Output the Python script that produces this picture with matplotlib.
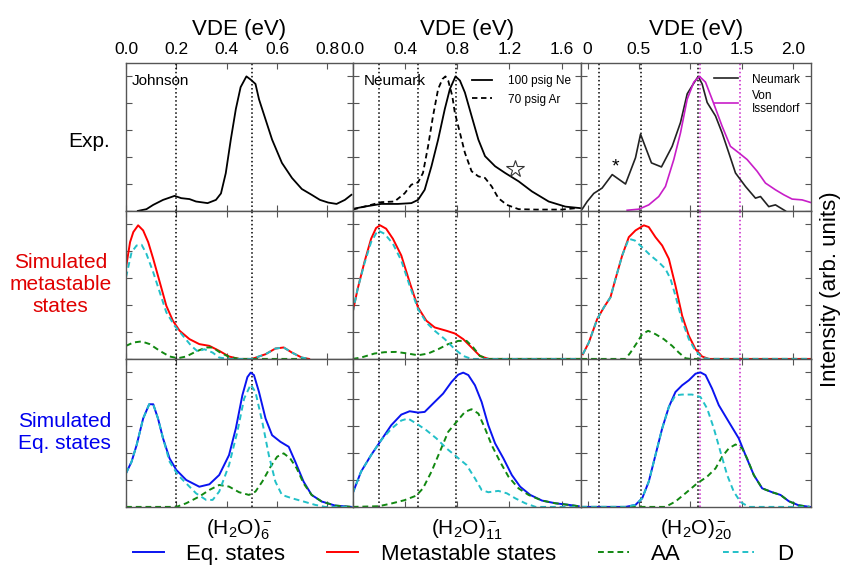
import numpy as np
import matplotlib.pyplot as plt
from matplotlib.lines import Line2D

plt.rcParams['font.family'] = ['Liberation Sans', 'DejaVu Sans']
plt.rcParams['mathtext.fontset'] = 'custom'
plt.rcParams['mathtext.rm'] = 'Liberation Sans'
plt.rcParams['mathtext.it'] = 'Liberation Sans:italic'

# ---------------- data ----------------
clusters = [r'(H$_2$O)$_6^-$', r'(H$_2$O)$_{11}^-$', r'(H$_2$O)$_{20}^-$']
x_limits = [(0, 0.9), (0, 1.75), (-0.06, 2.17)]
x_ticks = [[0.0, 0.2, 0.4, 0.6, 0.8], [0.0, 0.4, 0.8, 1.2, 1.6], [0.0, 0.5, 1.0, 1.5, 2.0]]
x_ticklabels = [['0.0', '0.2', '0.4', '0.6', '0.8'], ['0.0', '0.4', '0.8', '1.2', '1.6'],
                ['0', '0.5', '1.0', '1.5', '2.0']]
vde_black = [[0.2, 0.5], [0.2, 0.5, 0.79], [0.11, 0.52, 1.075]]
vde_magenta = [[], [], [1.097, 1.485]]
row_labels = ['Exp.', 'Simulated\nmetastable\nstates', 'Simulated\nEq. states']

# experiment, (H2O)6-  (Johnson)
exp6_x = [0.047, 0.081, 0.108, 0.147, 0.193, 0.219, 0.252, 0.278, 0.324, 0.357, 0.377, 0.396, 0.416,
          0.436, 0.455, 0.478, 0.495, 0.514, 0.528, 0.554, 0.580, 0.619, 0.659, 0.698, 0.737, 0.770,
          0.803, 0.836, 0.869, 0.895]
exp6_y = [0.0, 0.013, 0.045, 0.082, 0.112, 0.095, 0.088, 0.070, 0.058, 0.082, 0.130, 0.280, 0.530,
          0.757, 0.920, 1.0, 0.976, 0.944, 0.830, 0.680, 0.530, 0.357, 0.245, 0.163, 0.120, 0.082,
          0.062, 0.052, 0.082, 0.120]

# experiment, (H2O)11-  (Neumark)
exp11_ne_x = [0.0, 0.09, 0.218, 0.346, 0.449, 0.5, 0.551, 0.603, 0.654, 0.705, 0.744, 0.787, 0.821,
              0.859, 0.91, 0.962, 1.013, 1.09, 1.167, 1.27, 1.372, 1.5, 1.628, 1.75]
exp11_ne_y = [0.015, 0.032, 0.052, 0.052, 0.058, 0.082, 0.157, 0.332, 0.53, 0.757, 0.906, 1.0, 0.969,
              0.88, 0.706, 0.53, 0.407, 0.332, 0.282, 0.22, 0.145, 0.07, 0.032, 0.02]
exp11_ar_x = [0.0, 0.09, 0.218, 0.32, 0.397, 0.449, 0.5, 0.538, 0.577, 0.615, 0.654, 0.687, 0.71,
              0.731, 0.762, 0.782, 0.821, 0.859, 0.91, 0.962, 1.013, 1.064, 1.115, 1.18, 1.27, 1.4,
              1.6, 1.705]
exp11_ar_y = [0.01, 0.032, 0.065, 0.07, 0.13, 0.195, 0.212, 0.282, 0.48, 0.706, 0.906, 0.98, 1.0,
              0.969, 0.856, 0.73, 0.58, 0.432, 0.295, 0.257, 0.245, 0.182, 0.095, 0.045, 0.013, 0.01,
              0.01, 0.02]

# experiment, (H2O)20-  (Neumark, von Issendorf)
exp20_neu_x = [-0.06, -0.052, -0.003, 0.061, 0.142, 0.24, 0.369, 0.466, 0.515, 0.621, 0.718, 0.822,
               0.903, 0.968, 1.016, 1.075, 1.113, 1.162, 1.243, 1.307, 1.372, 1.437, 1.534, 1.631,
               1.68, 1.76, 1.825, 1.922]
exp20_neu_y = [0.02, 0.013, 0.07, 0.13, 0.17, 0.27, 0.2, 0.395, 0.57, 0.357, 0.327, 0.48, 0.657,
               0.87, 0.93, 1.0, 0.944, 0.806, 0.706, 0.58, 0.432, 0.282, 0.182, 0.095, 0.107, 0.032,
               0.045, 0.0]
exp20_von_x = [0.385, 0.498, 0.595, 0.692, 0.757, 0.838, 0.903, 0.968, 1.032, 1.087, 1.146, 1.21,
               1.307, 1.388, 1.469, 1.55, 1.647, 1.728, 1.825, 1.906, 1.987, 2.084, 2.17]
exp20_von_y = [0.005, 0.013, 0.045, 0.107, 0.182, 0.382, 0.58, 0.83, 0.957, 1.0, 0.957, 0.83, 0.63,
               0.48, 0.432, 0.382, 0.295, 0.207, 0.157, 0.12, 0.088, 0.082, 0.062]

# simulated metastable states
meta6_x = [0.0, 0.016, 0.029, 0.048, 0.068, 0.088, 0.108, 0.134, 0.16, 0.186, 0.213, 0.252, 0.291,
           0.331, 0.37, 0.409, 0.449, 0.5, 0.554, 0.593, 0.626, 0.659, 0.698, 0.727]
meta6_y = [0.68, 0.868, 0.943, 0.993, 0.955, 0.868, 0.744, 0.57, 0.395, 0.284, 0.209, 0.147, 0.11,
           0.097, 0.06, 0.018, 0.0, 0.0, 0.035, 0.077, 0.085, 0.047, 0.01, 0.0]
meta6_d_x = [0.0, 0.022, 0.042, 0.062, 0.081, 0.108, 0.134, 0.16, 0.193, 0.226, 0.259, 0.285, 0.311,
             0.344, 0.37, 0.41, 0.5, 0.554, 0.593, 0.626, 0.659, 0.698, 0.727]
meta6_d_y = [0.607, 0.793, 0.843, 0.848, 0.781, 0.644, 0.495, 0.346, 0.246, 0.172, 0.097, 0.055,
             0.072, 0.047, 0.01, 0.0, 0.0, 0.035, 0.077, 0.085, 0.047, 0.01, 0.0]
meta6_aa_x = [0.0, 0.029, 0.062, 0.094, 0.134, 0.173, 0.206, 0.239, 0.278, 0.318, 0.344, 0.37, 0.409,
              0.449, 0.727]
meta6_aa_y = [0.097, 0.122, 0.13, 0.11, 0.06, 0.018, 0.005, 0.018, 0.055, 0.085, 0.085, 0.052, 0.015,
              0.0, 0.0]

meta11_x = [0.0, 0.038, 0.09, 0.141, 0.179, 0.21, 0.256, 0.308, 0.372, 0.436, 0.5, 0.564, 0.628,
            0.718, 0.782, 0.846, 0.91, 0.974, 1.04, 1.75]
meta11_y = [0.346, 0.52, 0.72, 0.893, 0.973, 0.993, 0.968, 0.893, 0.769, 0.57, 0.383, 0.284, 0.234,
            0.209, 0.189, 0.147, 0.085, 0.022, 0.0, 0.0]
meta11_d_x = [0.0, 0.038, 0.09, 0.141, 0.192, 0.244, 0.308, 0.372, 0.436, 0.5, 0.564, 0.628, 0.705,
              0.782, 0.846, 0.91, 1.75]
meta11_d_y = [0.346, 0.52, 0.71, 0.868, 0.955, 0.93, 0.856, 0.731, 0.545, 0.371, 0.271, 0.209,
              0.147, 0.072, 0.022, 0.0, 0.0]
meta11_aa_x = [0.0, 0.064, 0.167, 0.244, 0.333, 0.423, 0.5, 0.577, 0.654, 0.731, 0.808, 0.872, 0.923,
               0.974, 1.04, 1.75]
meta11_aa_y = [0.0, 0.01, 0.04, 0.05, 0.052, 0.04, 0.027, 0.04, 0.072, 0.11, 0.134, 0.134, 0.085,
               0.022, 0.0, 0.0]

meta20_x = [-0.045, 0.013, 0.094, 0.159, 0.223, 0.272, 0.337, 0.401, 0.466, 0.547, 0.595, 0.66,
            0.725, 0.79, 0.854, 0.919, 0.984, 1.049, 1.113, 1.178, 2.17]
meta20_y = [0.035, 0.122, 0.296, 0.383, 0.458, 0.595, 0.769, 0.905, 0.955, 0.993, 0.98, 0.905, 0.843,
            0.744, 0.545, 0.321, 0.172, 0.072, 0.018, 0.0, 0.0]
meta20_d_x = [-0.045, 0.013, 0.094, 0.159, 0.223, 0.272, 0.337, 0.401, 0.46, 0.531, 0.612, 0.692,
              0.757, 0.806, 0.854, 0.919, 0.984, 1.049, 1.113, 1.178, 2.17]
meta20_d_y = [0.035, 0.122, 0.296, 0.383, 0.458, 0.595, 0.769, 0.893, 0.88, 0.83, 0.769, 0.719,
              0.669, 0.595, 0.47, 0.284, 0.147, 0.06, 0.01, 0.0, 0.0]
meta20_aa_x = [-0.06, 0.369, 0.417, 0.482, 0.531, 0.589, 0.66, 0.741, 0.822, 0.887, 0.951, 1.0, 2.17]
meta20_aa_y = [0.0, 0.0, 0.047, 0.122, 0.184, 0.209, 0.184, 0.147, 0.097, 0.047, 0.005, 0.0, 0.0]

# simulated equilibrium states
eq6_x = [0.0, 0.022, 0.042, 0.068, 0.092, 0.108, 0.127, 0.147, 0.173, 0.2, 0.239, 0.291, 0.331,
         0.37, 0.409, 0.436, 0.462, 0.482, 0.495, 0.508, 0.528, 0.554, 0.58, 0.613, 0.646, 0.672,
         0.705, 0.737, 0.777, 0.83, 0.895]
eq6_y = [0.25, 0.336, 0.459, 0.657, 0.763, 0.763, 0.657, 0.509, 0.36, 0.274, 0.2, 0.15, 0.168, 0.237,
         0.385, 0.583, 0.83, 0.965, 0.998, 0.98, 0.854, 0.657, 0.533, 0.484, 0.447, 0.336, 0.188,
         0.089, 0.04, 0.01, 0.0]
eq6_d_x = [0.0, 0.022, 0.042, 0.068, 0.092, 0.108, 0.127, 0.147, 0.173, 0.206, 0.239, 0.278, 0.318,
           0.344, 0.37, 0.409, 0.442, 0.469, 0.495, 0.514, 0.541, 0.567, 0.593, 0.619, 0.659, 0.705,
           0.751, 0.79, 0.895]
eq6_d_y = [0.25, 0.336, 0.459, 0.657, 0.763, 0.763, 0.657, 0.509, 0.336, 0.237, 0.175, 0.101, 0.052,
           0.052, 0.114, 0.311, 0.558, 0.805, 0.909, 0.854, 0.632, 0.385, 0.188, 0.089, 0.064, 0.04,
           0.015, 0.0, 0.0]
eq6_aa_x = [0.0, 0.2, 0.239, 0.291, 0.331, 0.37, 0.409, 0.449, 0.488, 0.514, 0.541, 0.574, 0.6,
            0.626, 0.652, 0.678, 0.705, 0.737, 0.777, 0.83, 0.895]
eq6_aa_y = [0.0, 0.0, 0.027, 0.077, 0.126, 0.163, 0.151, 0.109, 0.089, 0.114, 0.188, 0.299, 0.373,
            0.398, 0.36, 0.286, 0.175, 0.089, 0.04, 0.01, 0.0]

eq11_x = [0.0, 0.064, 0.141, 0.218, 0.295, 0.372, 0.436, 0.5, 0.551, 0.615, 0.692, 0.756, 0.808,
          0.846, 0.885, 0.936, 0.987, 1.038, 1.09, 1.154, 1.218, 1.282, 1.359, 1.449, 1.551, 1.654,
          1.73]
eq11_y = [0.101, 0.262, 0.385, 0.496, 0.607, 0.686, 0.711, 0.701, 0.706, 0.768, 0.842, 0.928, 0.983,
          0.998, 0.98, 0.904, 0.78, 0.607, 0.472, 0.36, 0.237, 0.15, 0.089, 0.047, 0.027, 0.015,
          0.005]
eq11_d_x = [0.0, 0.064, 0.141, 0.218, 0.295, 0.372, 0.423, 0.487, 0.564, 0.641, 0.718, 0.795, 0.872,
            0.936, 0.987, 1.038, 1.115, 1.18, 1.244, 1.321, 1.4, 1.73]
eq11_d_y = [0.101, 0.262, 0.385, 0.496, 0.58, 0.642, 0.657, 0.62, 0.57, 0.509, 0.435, 0.373, 0.311,
            0.212, 0.126, 0.109, 0.119, 0.101, 0.064, 0.027, 0.0, 0.0]
eq11_aa_x = [0.0, 0.2, 0.295, 0.397, 0.487, 0.538, 0.603, 0.667, 0.731, 0.795, 0.859, 0.91, 0.962,
             1.013, 1.064, 1.128, 1.192, 1.269, 1.346, 1.449, 1.551, 1.654, 1.73]
eq11_aa_y = [0.0, 0.005, 0.025, 0.05, 0.084, 0.138, 0.262, 0.41, 0.558, 0.632, 0.706, 0.726, 0.694,
             0.583, 0.459, 0.336, 0.225, 0.138, 0.089, 0.047, 0.027, 0.015, 0.005]

eq20_x = [-0.06, 0.369, 0.466, 0.531, 0.595, 0.66, 0.725, 0.79, 0.854, 0.919, 0.984, 1.049, 1.097,
          1.146, 1.21, 1.275, 1.372, 1.469, 1.534, 1.615, 1.696, 1.793, 1.874, 1.955, 2.05, 2.16]
eq20_y = [0.0, 0.0, 0.015, 0.064, 0.188, 0.385, 0.583, 0.743, 0.854, 0.904, 0.941, 0.99, 1.0, 0.98,
          0.879, 0.756, 0.632, 0.509, 0.385, 0.237, 0.138, 0.109, 0.089, 0.042, 0.012, 0.0]
eq20_d_x = [-0.06, 0.369, 0.466, 0.531, 0.595, 0.66, 0.725, 0.79, 0.854, 0.919, 1.016, 1.097, 1.162,
            1.227, 1.291, 1.356, 1.42, 1.485, 1.566, 2.16]
eq20_d_y = [0.0, 0.0, 0.015, 0.064, 0.188, 0.385, 0.583, 0.743, 0.83, 0.835, 0.835, 0.817, 0.731,
            0.583, 0.41, 0.237, 0.114, 0.037, 0.0, 0.0]
eq20_aa_x = [-0.06, 0.757, 0.854, 0.951, 1.065, 1.162, 1.243, 1.307, 1.372, 1.437, 1.502, 1.55,
             1.615, 1.696, 1.793, 1.874, 1.955, 2.05, 2.16]
eq20_aa_y = [0.0, 0.0, 0.04, 0.101, 0.175, 0.225, 0.286, 0.373, 0.435, 0.464, 0.435, 0.36, 0.237,
             0.138, 0.109, 0.089, 0.042, 0.012, 0.0]

meta_sets = [(meta6_x, meta6_y, meta6_aa_x, meta6_aa_y, meta6_d_x, meta6_d_y),
             (meta11_x, meta11_y, meta11_aa_x, meta11_aa_y, meta11_d_x, meta11_d_y),
             (meta20_x, meta20_y, meta20_aa_x, meta20_aa_y, meta20_d_x, meta20_d_y)]
eq_sets = [(eq6_x, eq6_y, eq6_aa_x, eq6_aa_y, eq6_d_x, eq6_d_y),
           (eq11_x, eq11_y, eq11_aa_x, eq11_aa_y, eq11_d_x, eq11_d_y),
           (eq20_x, eq20_y, eq20_aa_x, eq20_aa_y, eq20_d_x, eq20_d_y)]

# ---------------- figure ----------------
spine_col = '#555555'
magenta = '#c81ec8'
dash = (0, (3, 2))

fig = plt.figure(figsize=(8.43, 5.67), dpi=100)
gs = fig.add_gridspec(3, 3, left=0.1495, right=0.962, top=0.889, bottom=0.106,
                      wspace=0, hspace=0, width_ratios=[227, 229, 230])
axs = np.array([[fig.add_subplot(gs[r, c]) for c in range(3)] for r in range(3)])

for r in range(3):
    for c in range(3):
        ax = axs[r, c]
        ax.set_xlim(*x_limits[c])
        ax.set_ylim(0, 1.1)
        ax.set_xticks(x_ticks[c])
        ax.set_yticks(np.arange(0, 1.01, 0.2))
        ax.set_yticklabels([])
        ax.tick_params(direction='in', top=True, bottom=True, left=True, right=True,
                       labelbottom=False, labeltop=(r == 0), labelleft=False,
                       length=4, width=0.8, color=spine_col, labelsize=12.5, pad=4)
        if r == 0:
            ax.set_xticklabels(x_ticklabels[c])
            ax.xaxis.set_label_position('top')
            ax.set_xlabel('VDE (eV)', fontsize=16, labelpad=5)
        for s in ax.spines.values():
            s.set_color(spine_col)
            s.set_linewidth(1.0)
        for v in vde_black[c]:
            ax.axvline(v, color='k', ls=':', lw=1.1)
        for v in vde_magenta[c]:
            ax.axvline(v, color=magenta, ls=':', lw=1.1)

# row labels
axs[0, 0].text(-0.07, 0.47, row_labels[0], transform=axs[0, 0].transAxes,
               ha='right', va='center', fontsize=15)
axs[1, 0].text(-0.29, 0.5, row_labels[1], transform=axs[1, 0].transAxes,
               ha='center', va='center', fontsize=15, color='#e00000', multialignment='center')
axs[2, 0].text(-0.27, 0.5, row_labels[2], transform=axs[2, 0].transAxes,
               ha='center', va='center', fontsize=15, color='#0000ee', multialignment='center')

# experiment row
ax = axs[0, 0]
ax.plot(exp6_x, exp6_y, color='k', lw=1.3)
ax.text(0.026, 0.88, 'Johnson', transform=ax.transAxes, ha='left', va='center', fontsize=11)

ax = axs[0, 1]
ax.plot(exp11_ne_x, exp11_ne_y, color='k', lw=1.3, label='100 psig Ne')
ax.plot(exp11_ar_x, exp11_ar_y, color='k', lw=1.3, ls=dash, label='70 psig Ar')
ax.plot([1.24], [0.31], marker='*', ms=13, mfc='none', mec='#333333', mew=0.8, ls='none')
ax.text(0.05, 0.88, 'Neumark', transform=ax.transAxes, ha='left', va='center', fontsize=11)
ax.legend(loc='upper right', bbox_to_anchor=(1.0, 0.99), frameon=False, fontsize=8.5,
          handlelength=1.7, handletextpad=1.3, labelspacing=0.55)

ax = axs[0, 2]
ax.plot(exp20_neu_x, exp20_neu_y, color='#222222', lw=1.2, label='Neumark')
ax.plot(exp20_von_x, exp20_von_y, color=magenta, lw=1.2, label='Von\nIssendorf')
ax.text(0.27, 0.33, '*', ha='center', va='center', fontsize=14)
ax.legend(loc='upper right', bbox_to_anchor=(1.0, 1.0), frameon=False, fontsize=8.5,
          handlelength=2.0, handletextpad=1.2, labelspacing=0.35)

# simulated rows
for c in range(3):
    tx, ty, ax_, ay_, dx, dy = meta_sets[c]
    ax = axs[1, c]
    ax.plot(tx, ty, color='red', lw=1.4)
    ax.plot(ax_, ay_, color='#118811', lw=1.4, ls=dash)
    ax.plot(dx, dy, color='#22c0c8', lw=1.4, ls=dash)

    tx, ty, ax_, ay_, dx, dy = eq_sets[c]
    ax = axs[2, c]
    ax.plot(tx, ty, color='#0a14f0', lw=1.4)
    ax.plot(ax_, ay_, color='#118811', lw=1.4, ls=dash)
    ax.plot(dx, dy, color='#22c0c8', lw=1.4, ls=dash)
    ax.text(0.5, -0.155, clusters[c], transform=ax.transAxes, ha='center', va='center', fontsize=15)

fig.text(0.985, 0.49, 'Intensity (arb. units)', rotation=90, ha='center', va='center', fontsize=16)

handles = [Line2D([], [], color='#0a14f0', lw=1.4),
           Line2D([], [], color='red', lw=1.4),
           Line2D([], [], color='#118811', lw=1.4, ls=dash),
           Line2D([], [], color='#22c0c8', lw=1.4, ls=dash)]
fig.legend(handles, ['Eq. states', 'Metastable states', 'AA', 'D'], loc='center',
           bbox_to_anchor=(0.549, 0.022), ncol=4, frameon=False, fontsize=16,
           handlelength=1.4, handletextpad=1.0, columnspacing=1.9)

fig.savefig('out.png', dpi=100)
